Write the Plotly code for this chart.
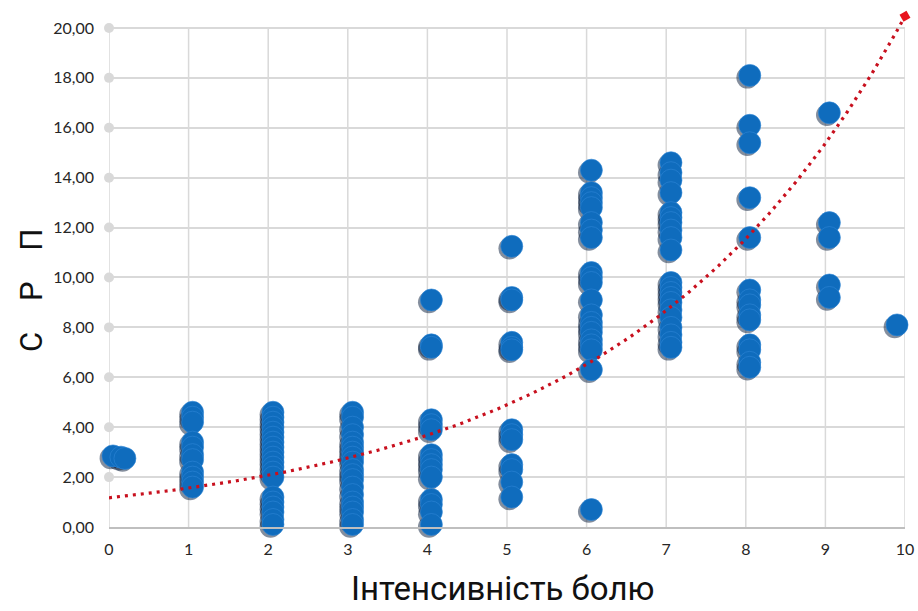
import numpy as np
import plotly.graph_objects as go

# Pain intensity (x) and SRP value (y) for each observation, grouped by score
pain_x = (
    [0.05, 0.15, 0.2]
    + [1.05] * 11
    + [2.06] * 20
    + [3.06] * 19
    + [4.05] * 15
    + [5.06] * 13
    + [6.06] * 21
    + [7.06] * 21
    + [8.05] * 14
    + [9.05] * 5
    + [9.9]
)
srp_y = (
    [2.85, 2.8, 2.75]
    + [4.6, 4.4, 4.2, 3.4, 3.2, 2.9, 2.7, 2.2, 2.0, 1.8, 1.6]
    + [4.6, 4.4, 4.2, 4.0, 3.8, 3.6, 3.4, 3.2, 3.0, 2.8, 2.6, 2.4, 2.2, 2.0,
       1.2, 1.0, 0.8, 0.6, 0.3, 0.1]
    + [4.6, 4.4, 4.0, 3.7, 3.4, 3.2, 3.0, 2.8, 2.6, 2.3, 2.1, 1.9, 1.6, 1.3,
       1.0, 0.8, 0.6, 0.3, 0.1]
    + [9.1, 7.3, 7.2, 4.3, 4.1, 3.9, 2.9, 2.7, 2.5, 2.3, 2.0, 1.1, 0.9, 0.6, 0.1]
    + [11.25, 9.2, 9.1, 7.4, 7.2, 7.1, 3.9, 3.7, 3.5, 2.5, 2.3, 1.8, 1.2]
    + [14.3, 13.4, 13.2, 13.0, 12.8, 12.2, 11.9, 11.6, 10.2, 10.0, 9.8, 9.1,
       8.5, 8.2, 8.0, 7.8, 7.5, 7.3, 7.1, 6.3, 0.7]
    + [14.6, 14.2, 13.9, 13.4, 12.6, 12.4, 12.2, 11.9, 11.6, 11.1, 9.8, 9.6,
       9.4, 9.2, 9.0, 8.7, 8.4, 8.0, 7.7, 7.4, 7.2]
    + [18.1, 16.1, 15.4, 13.2, 11.6, 9.5, 9.1, 8.9, 8.5, 8.3, 7.3, 7.1, 6.6, 6.4]
    + [16.6, 12.2, 11.6, 9.7, 9.2]
    + [8.1]
)

# Exponential trend y = a * exp(b * x)
trend_a = 1.17
trend_b = 0.2862

x_ticks = list(range(0, 11))
y_ticks = list(range(0, 21, 2))

BLUE = "#0F6CBD"
RED = "#C8101E"
GRID = "#D9D9D9"

fig = go.Figure()

# soft drop shadow under each marker
fig.add_trace(go.Scatter(
    x=[v - 0.03 for v in pain_x], y=[v - 0.09 for v in srp_y],
    mode="markers", cliponaxis=False, hoverinfo="skip",
    marker=dict(size=22, color="rgba(10,30,60,0.5)", line=dict(width=0)),
))
fig.add_trace(go.Scatter(
    x=pain_x, y=srp_y, mode="markers", cliponaxis=False,
    marker=dict(size=22, color=BLUE, line=dict(width=0.6, color="#2F86D6")),
))

tx = np.linspace(0, 10, 300)
ty = trend_a * np.exp(trend_b * tx)
fig.add_trace(go.Scatter(
    x=tx, y=ty, mode="lines", cliponaxis=False,
    line=dict(color=RED, width=3.2, dash="3px,5px"),
))
fig.add_trace(go.Scatter(
    x=[tx[-1]], y=[ty[-1]], mode="markers", cliponaxis=False,
    marker=dict(symbol="square", size=8, color="#E8141E", angle=-30),
))

# grey tick dots on the value axis
fig.add_trace(go.Scatter(
    x=[0] * (len(y_ticks) - 1), y=y_ticks[1:], mode="markers", cliponaxis=False,
    marker=dict(size=10, color=GRID),
))

shapes = []
for xv in x_ticks:
    shapes.append(dict(type="line", xref="x", yref="y", x0=xv, x1=xv, y0=0, y1=20,
                       line=dict(color=GRID, width=1.5), layer="below"))

fig.update_layout(
    width=918, height=611,
    margin=dict(l=109, r=13, t=13, b=84),
    paper_bgcolor="white", plot_bgcolor="white",
    showlegend=False,
    separators=", ",
    shapes=shapes,
    font=dict(family="Lato, Open Sans, sans-serif", color="#333333"),
    xaxis=dict(
        range=[0, 10], tickvals=x_ticks, showgrid=False, zeroline=False,
        showline=True, linecolor="#BFBFBF", linewidth=2, automargin=False,
        ticks="", tickfont=dict(size=16, color="#262626"), ticklabelstandoff=7,
    ),
    yaxis=dict(
        range=[0, 20.6], tickvals=y_ticks, tickformat=".2f", automargin=False,
        showgrid=True, gridcolor=GRID, gridwidth=1.5, zeroline=False,
        showline=False, ticks="", tickfont=dict(size=16, color="#262626"),
        ticklabelstandoff=14,
    ),
    annotations=[
        dict(text="Інтенсивність болю", xref="paper", yref="paper",
             x=0.494, y=-0.1206, xanchor="center", yanchor="middle",
             showarrow=False,
             font=dict(size=33, family="Roboto, sans-serif", color="#111111")),
        dict(text="С    Р    П", xref="paper", yref="paper", textangle=-90,
             x=-0.098, y=0.461, xanchor="center", yanchor="middle",
             showarrow=False,
             font=dict(size=31, family="Roboto, sans-serif", color="#111111")),
    ],
)

fig.write_html("out.html")
